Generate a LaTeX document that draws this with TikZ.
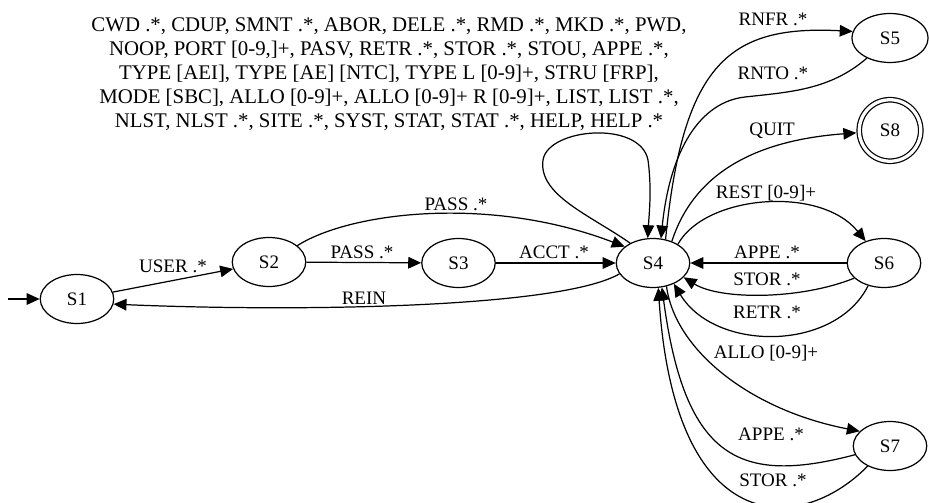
\documentclass[tikz,border=0pt]{standalone}
\usepackage{fontspec}
\setmainfont{Liberation Serif}
\usetikzlibrary{arrows.meta,shapes.geometric}
\begin{document}
\begin{tikzpicture}[x=0.735pt,y=-0.735pt,
  every node/.style={font=\fontsize{14pt}{17.8pt}\selectfont},
  st/.style={draw, ellipse, line width=0.9pt, minimum width=54pt, minimum height=36pt, inner sep=0pt},
  lbl/.style={anchor=base, inner sep=0pt},
  edge/.style={draw, line width=0.9pt, -{Triangle[length=9.5pt,width=8.5pt]}}
]
\useasboundingbox (0,0) rectangle (929,502);
% states
\node[st] (S1) at (77,299) {S1};
\node[st] (S2) at (269,262) {S2};
\node[st] (S3) at (458.5,263) {S3};
\node[st] (S4) at (653,263) {S4};
\node[st, minimum width=56pt] (S5) at (890,38) {S5};
\node[st] (S6) at (884,263) {S6};
\node[st] (S7) at (890,446) {S7};
\node[draw, circle, line width=0.9pt, double, double distance=2.4pt, minimum size=45.2pt, inner sep=0pt] (S8) at (890,130.5) {S8};
\coordinate (init) at (8,299);
% edges
\draw[edge] (init) -- (S1);
\draw[edge] (S1) -- (S2);
\draw[edge] (S2) -- (S3);
\draw[edge] (S2.30) .. controls (350,212) and (490,195) .. (S4.150);
\draw[edge] (S3) -- (S4);
\draw[edge] (S4.-162) .. controls (560,308) and (300,312) .. (S1.-8);
\draw[edge] (S4.139) .. controls (590,215) and (538,195) .. (543,160)
   .. controls (548,128) and (640,120) .. (648,160)
   .. controls (652,190) and (649,215) .. (S4.102);
\draw[edge] (S4.62) .. controls (683,62) and (730,25) .. (S5.170);
\draw[edge] (S5.221) .. controls (830,90) and (790,92) .. (745,97)
   .. controls (700,102) and (670,150) .. (S4.72);
\draw[edge, shorten >=1.8pt] (S4.49) .. controls (695,170) and (760,140) .. (S8.184);
\draw[edge] (S4.37) .. controls (705,195) and (820,185) .. (S6.130);
\draw[edge] (S6) -- (S4);
\draw[edge] (S6.207) .. controls (800,300) and (720,300) .. (S4.-25);
\draw[edge] (S6.235) .. controls (835,352) and (715,352) .. (S4.-45);
\draw[edge] (S4.-60) .. controls (675,350) and (750,410) .. (S7.154);
\draw[edge] (S7.194) .. controls (740,485) and (685,460) .. (S4.-70);
\draw[edge] (S7.222) .. controls (800,535) and (675,540) .. (S4.-78);
% labels
\node[lbl] (lUSER) at (173,272) {USER .*};
\node[lbl] (lPASSa) at (362,258) {PASS .*};
\node[lbl] (lPASSb) at (456,210) {PASS .*};
\node[lbl] (lACCT) at (554,258) {ACCT .*};
\node[lbl] (lREIN) at (364,304) {REIN};
\node[lbl] (lRNFR) at (773,26) {RNFR .*};
\node[lbl] (lRNTO) at (773,80) {RNTO .*};
\node[lbl] (lQUIT) at (772,135) {QUIT};
\node[lbl] (lREST) at (766,198) {REST [0-9]+};
\node[lbl] (lAPPE6) at (767,258) {APPE .*};
\node[lbl] (lSTOR6) at (767,285) {STOR .*};
\node[lbl] (lRETR) at (767,318) {RETR .*};
\node[lbl] (lALLO) at (766,358) {ALLO [0-9]+};
\node[lbl] (lAPPE7) at (771,440) {APPE .*};
\node[lbl] (lSTOR7) at (773,486) {STOR .*};
\node[anchor=north, align=center, inner sep=0pt, font=\fontsize{15.3pt}{17.8pt}\selectfont] (lLOOP) at (389,17) {CWD .*, CDUP, SMNT .*, ABOR, DELE .*, RMD .*, MKD .*, PWD,\\
NOOP, PORT [0-9,]+, PASV, RETR .*, STOR .*, STOU, APPE .*,\\
TYPE [AEI], TYPE [AE] [NTC], TYPE L [0-9]+, STRU [FRP],\\
MODE [SBC], ALLO [0-9]+, ALLO [0-9]+ R [0-9]+, LIST, LIST .*,\\
NLST, NLST .*, SITE .*, SYST, STAT, STAT .*, HELP, HELP .*};
\end{tikzpicture}
\end{document}
